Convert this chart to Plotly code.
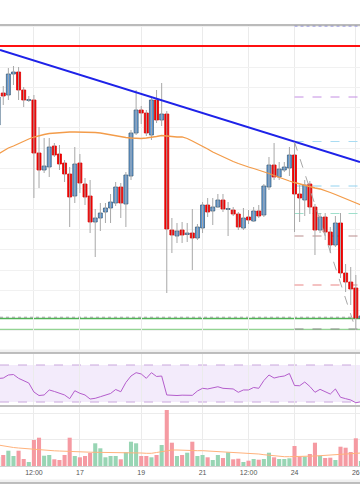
import plotly.graph_objects as go
import pandas as pd

# 4-hour candles, Dec 14 08:00 -> Dec 26 04:00
times = pd.date_range("2019-12-14 08:00", periods=72, freq="4h")

opens = [7450, 7514, 7510, 7552, 7556, 7520, 7499, 7500, 7394, 7360, 7366, 7408, 7392, 7374, 7352, 7308,
         7374, 7332, 7308, 7256, 7264, 7276, 7284, 7294, 7326, 7292, 7348, 7434, 7480, 7474, 7430, 7500,
         7460, 7472, 7240, 7228, 7240, 7231, 7234, 7224, 7244, 7290, 7278, 7286, 7300, 7281, 7280, 7272,
         7244, 7266, 7258, 7278, 7270, 7326, 7370, 7346, 7360, 7364, 7390, 7312, 7300, 7332, 7286, 7240,
         7266, 7236, 7210, 7254, 7154, 7136, 7124, 7064]
closes = [7506, 7508, 7552, 7556, 7520, 7500, 7501, 7394, 7360, 7368, 7406, 7390, 7372, 7352, 7306, 7372,
          7334, 7306, 7256, 7264, 7274, 7284, 7296, 7326, 7294, 7350, 7434, 7480, 7474, 7434, 7500, 7460,
          7472, 7242, 7230, 7238, 7230, 7234, 7224, 7246, 7290, 7276, 7286, 7300, 7282, 7283, 7272, 7246,
          7264, 7260, 7278, 7268, 7328, 7370, 7346, 7362, 7366, 7390, 7312, 7304, 7330, 7286, 7240, 7266,
          7236, 7210, 7254, 7154, 7136, 7122, 7064, 7068]
highs = [7516, 7528, 7564, 7568, 7566, 7526, 7508, 7510, 7446, 7424, 7424, 7414, 7410, 7380, 7366, 7406,
         7392, 7344, 7340, 7282, 7294, 7294, 7312, 7336, 7334, 7356, 7440, 7520, 7488, 7480, 7504, 7520,
         7534, 7478, 7264, 7254, 7256, 7254, 7282, 7252, 7296, 7304, 7304, 7312, 7312, 7296, 7286, 7276,
         7284, 7280, 7286, 7290, 7332, 7386, 7414, 7376, 7376, 7406, 7416, 7330, 7340, 7338, 7292, 7274,
         7274, 7246, 7268, 7274, 7172, 7166, 7150, 7076]
lows = [7440, 7490, 7500, 7530, 7500, 7486, 7496, 7304, 7324, 7354, 7346, 7386, 7360, 7336, 7246, 7294,
        7314, 7290, 7234, 7186, 7238, 7254, 7254, 7288, 7264, 7246, 7340, 7430, 7452, 7428, 7420, 7454,
        7448, 7114, 7194, 7214, 7214, 7216, 7160, 7220, 7234, 7266, 7250, 7284, 7276, 7228, 7268, 7240,
        7240, 7252, 7256, 7264, 7266, 7320, 7340, 7340, 7356, 7348, 7236, 7256, 7268, 7272, 7190, 7234,
        7220, 7194, 7206, 7144, 7116, 7090, 7040, 7058]
ma_price = [7392, 7398, 7404, 7408, 7413, 7418, 7422, 7426, 7429, 7431, 7433, 7434, 7435, 7436, 7436, 7436,
            7436, 7436, 7435, 7435, 7434, 7432, 7430, 7428, 7426, 7425, 7424, 7423, 7423, 7424, 7425, 7427,
            7429, 7428, 7426, 7426, 7426, 7423, 7418, 7413, 7408, 7402, 7396, 7391, 7386, 7381, 7377, 7373,
            7369, 7366, 7363, 7360, 7356, 7353, 7349, 7345, 7341, 7338, 7335, 7332, 7329, 7326, 7324, 7322,
            7319, 7315, 7311, 7307, 7303, 7299, 7294, 7290]
rsi = [55.4, 55.9, 59.2, 59.7, 55.6, 53.2, 50.5, 40.8, 37.0, 37.6, 43.0, 41.4, 39.7, 37.6, 33.6, 42.2,
       39.4, 37.6, 33.2, 34.0, 35.7, 37.2, 39.2, 43.5, 41.1, 51.1, 58.1, 61.7, 60.3, 55.6, 61.7, 57.6,
       58.1, 37.6, 37.0, 37.0, 37.4, 37.2, 37.2, 41.9, 44.8, 44.1, 45.1, 46.5, 44.8, 44.4, 44.1, 40.5,
       43.0, 43.0, 45.7, 44.8, 53.2, 59.2, 55.9, 57.3, 58.1, 60.8, 47.8, 47.6, 51.6, 46.8, 40.5, 43.7,
       41.1, 38.6, 44.1, 35.1, 33.6, 32.2, 29.2, 30.3]
volume = [900, 1100, 1530, 1000, 1530, 700, 400, 2600, 2830, 1030, 1100, 670, 600, 1100, 2830, 1000,
          870, 1000, 1300, 2270, 1770, 870, 1000, 1000, 670, 1370, 2430, 2270, 1000, 1000, 870, 1100,
          2100, 5600, 2330, 1000, 1100, 1330, 2430, 1000, 1100, 870, 600, 1100, 800, 1370, 670, 730,
          400, 530, 700, 630, 700, 1330, 870, 700, 700, 770, 2000, 930, 930, 1200, 2330, 1030, 800,
          830, 600, 1930, 1830, 1400, 2770, 500]
vol_ma = [2100, 2000, 1900, 1850, 1800, 1750, 1700, 1650, 1600, 1570, 1550, 1520, 1500, 1470, 1450, 1420,
          1400, 1400, 1380, 1370, 1370, 1350, 1350, 1350, 1350, 1350, 1350, 1350, 1300, 1270, 1270, 1350,
          1450, 1550, 1600, 1600, 1570, 1550, 1550, 1530, 1530, 1500, 1480, 1450, 1430, 1420, 1400, 1370,
          1340, 1300, 1270, 1200, 1130, 1070, 1000, 950, 930, 930, 930, 930, 950, 970, 1000, 1030, 1050,
          1070, 1100, 1150, 1200, 1230, 1270, 1300]

for arr in (opens, closes, highs, lows, ma_price, rsi, volume, vol_ma):
    assert len(arr) == len(times), len(arr)

tick_vals = ["2019-12-15 12:00", "2019-12-17", "2019-12-19", "2019-12-21",
             "2019-12-22 12:00", "2019-12-24", "2019-12-26"]
tick_text = ["12:00", "17", "19", "21", "12:00", "24", "26"]
x_range = ["2019-12-14 09:27:20", "2019-12-26 03:15:30"]

resistance = 7608
support_main = 7063
support_low = 7041
trend_x = ["2019-12-14 09:27:20", "2019-12-26 03:15:30"]
trend_y = [7600, 7376]
fib_start = "2019-12-24 00:00"
fib_end = "2019-12-28 00:00"
fib_levels = [7648, 7506, 7417, 7328, 7273, 7228, 7130, 7042]
fib_colors = ["#7f7fe0", "#c48ee3", "#a9dcf2", "#93d2ef", "#9fe0cc", "#b98d8d", "#e98585", "#8c8c8c"]
fib_dash = ["dot", "dash", "dash", "dash", "dash", "dash", "dash", "dash"]
diag_x = ["2019-12-24 00:00", "2019-12-26 00:00"]
diag_y = [7416, 7040]
rsi_upper, rsi_lower = 70, 30

period_ms = 4 * 3600 * 1000
up = [c >= o for o, c in zip(opens, closes)]

# wicks
wx, wy = [], []
for t, h, l in zip(times, highs, lows):
    wx += [t, t, None]
    wy += [l, h, None]

body_base = [min(o, c) for o, c in zip(opens, closes)]
body_h = [max(abs(c - o), 1.2) for o, c in zip(opens, closes)]
body_fill = ["#5f9ad8" if u else "#f20000" for u in up]
body_line = ["#3f6078" if u else "#e00000" for u in up]
vol_col = ["#98d5b4" if u else "#f59aa2" for u in up]

fig = go.Figure()
fig.add_trace(go.Scatter(x=wx, y=wy, mode="lines", line=dict(color="#a8a8a8", width=1),
                         hoverinfo="skip", yaxis="y"))
fig.add_trace(go.Bar(x=times, y=body_h, base=body_base, width=period_ms * 0.78,
                     marker=dict(color=body_fill, line=dict(color=body_line, width=0.8)), yaxis="y"))
fig.add_trace(go.Scatter(x=times, y=ma_price, mode="lines", line=dict(color="#f39c4a", width=1.3),
                         yaxis="y"))
fig.add_trace(go.Scatter(x=trend_x, y=trend_y, mode="lines", line=dict(color="#1e22e8", width=2),
                         yaxis="y"))
fig.add_trace(go.Scatter(x=diag_x, y=diag_y, mode="lines",
                         line=dict(color="#a8a8a8", width=1, dash="dash"), yaxis="y"))

# RSI
fig.add_trace(go.Scatter(x=times, y=rsi, mode="lines", line=dict(color="#b45dcc", width=1), yaxis="y2"))

# Volume
fig.add_trace(go.Bar(x=times, y=volume, width=period_ms * 0.8, marker=dict(color=vol_col, line=dict(width=0)),
                     yaxis="y3"))
fig.add_trace(go.Scatter(x=times, y=vol_ma, mode="lines", line=dict(color="#ffb27c", width=1), yaxis="y3"))

shapes = []
# horizontal levels
shapes.append(dict(type="line", xref="paper", yref="y", x0=0, x1=1, y0=resistance, y1=resistance,
                   line=dict(color="#ff1010", width=1.8), layer="above"))
shapes.append(dict(type="line", xref="paper", yref="y", x0=0, x1=1, y0=support_low, y1=support_low,
                   line=dict(color="#93d493", width=1.3), layer="between"))
shapes.append(dict(type="line", xref="paper", yref="y", x0=0, x1=1, y0=support_main, y1=support_main,
                   line=dict(color="#4fb354", width=1.6), layer="between"))
shapes.append(dict(type="line", xref="paper", yref="y", x0=0, x1=1, y0=support_main + 2.5, y1=support_main + 2.5,
                   line=dict(color="#9a9a9a", width=1, dash="dot"), layer="between"))
for lv, col, ds in zip(fib_levels, fib_colors, fib_dash):
    shapes.append(dict(type="line", xref="x", yref="y", x0=fib_start, x1=fib_end, y0=lv, y1=lv,
                       line=dict(color=col, width=1, dash=ds), layer="between"))
# RSI band
shapes.append(dict(type="rect", xref="paper", yref="y2", x0=0, x1=1, y0=rsi_lower, y1=rsi_upper,
                   fillcolor="rgba(160,90,225,0.12)", line=dict(width=0), layer="below"))
for lv in (rsi_upper, rsi_lower):
    shapes.append(dict(type="line", xref="paper", yref="y2", x0=0, x1=1, y0=lv, y1=lv,
                       line=dict(color="#c9a6dc", width=1, dash="dash"), layer="between"))


# pane separators (pixel rows converted to paper fractions)
def py(px):
    return 1 - px / 504.0


for top_px, bot_px in ((349.5, 352.5), (479.5, 482.5)):
    shapes.append(dict(type="rect", xref="paper", yref="paper", x0=0, x1=1, y0=py(bot_px), y1=py(top_px),
                       fillcolor="#f0f0f0", line=dict(width=0), layer="above"))
for px, col in ((25, "#a4a4a4"), (353, "#a8a8a8"), (406, "#a8a8a8"), (483, "#a8a8a8")):
    shapes.append(dict(type="line", xref="paper", yref="paper", x0=0, x1=1, y0=py(px), y1=py(px),
                       line=dict(color=col, width=1.4), layer="above"))

fig.update_layout(
    width=360, height=504, margin=dict(l=0, r=0, t=0, b=0),
    paper_bgcolor="white", plot_bgcolor="white", showlegend=False, barmode="overlay",
    shapes=shapes,
    xaxis=dict(type="date", range=x_range, tickvals=tick_vals, ticktext=tick_text,
               showgrid=True, gridcolor="#ebebeb", gridwidth=1, anchor="y3", ticks="",
               tickfont=dict(size=7, color="#555555", family="Liberation Sans"),
               showline=True, linecolor="#d2d2d2", zeroline=False, fixedrange=True),
    yaxis=dict(domain=[py(352), py(25)], range=[6996, 7650], showticklabels=False,
               tick0=7566, dtick=40.6, showgrid=True, gridcolor="#f1f1f1", zeroline=False),
    yaxis2=dict(domain=[py(405), py(354)], range=[26.757, 81.892], showticklabels=False,
                showgrid=False, zeroline=False),
    yaxis3=dict(domain=[py(466), py(407)], range=[0, 5900], showticklabels=False,
                tickvals=[2650, 5300], showgrid=True, gridcolor="#ececec", zeroline=False),
)

fig.write_html("out.html", config={"displayModeBar": False},
               post_script="document.body.style.margin='0';document.body.style.padding='0';"
                           "document.body.style.overflow='hidden';")
